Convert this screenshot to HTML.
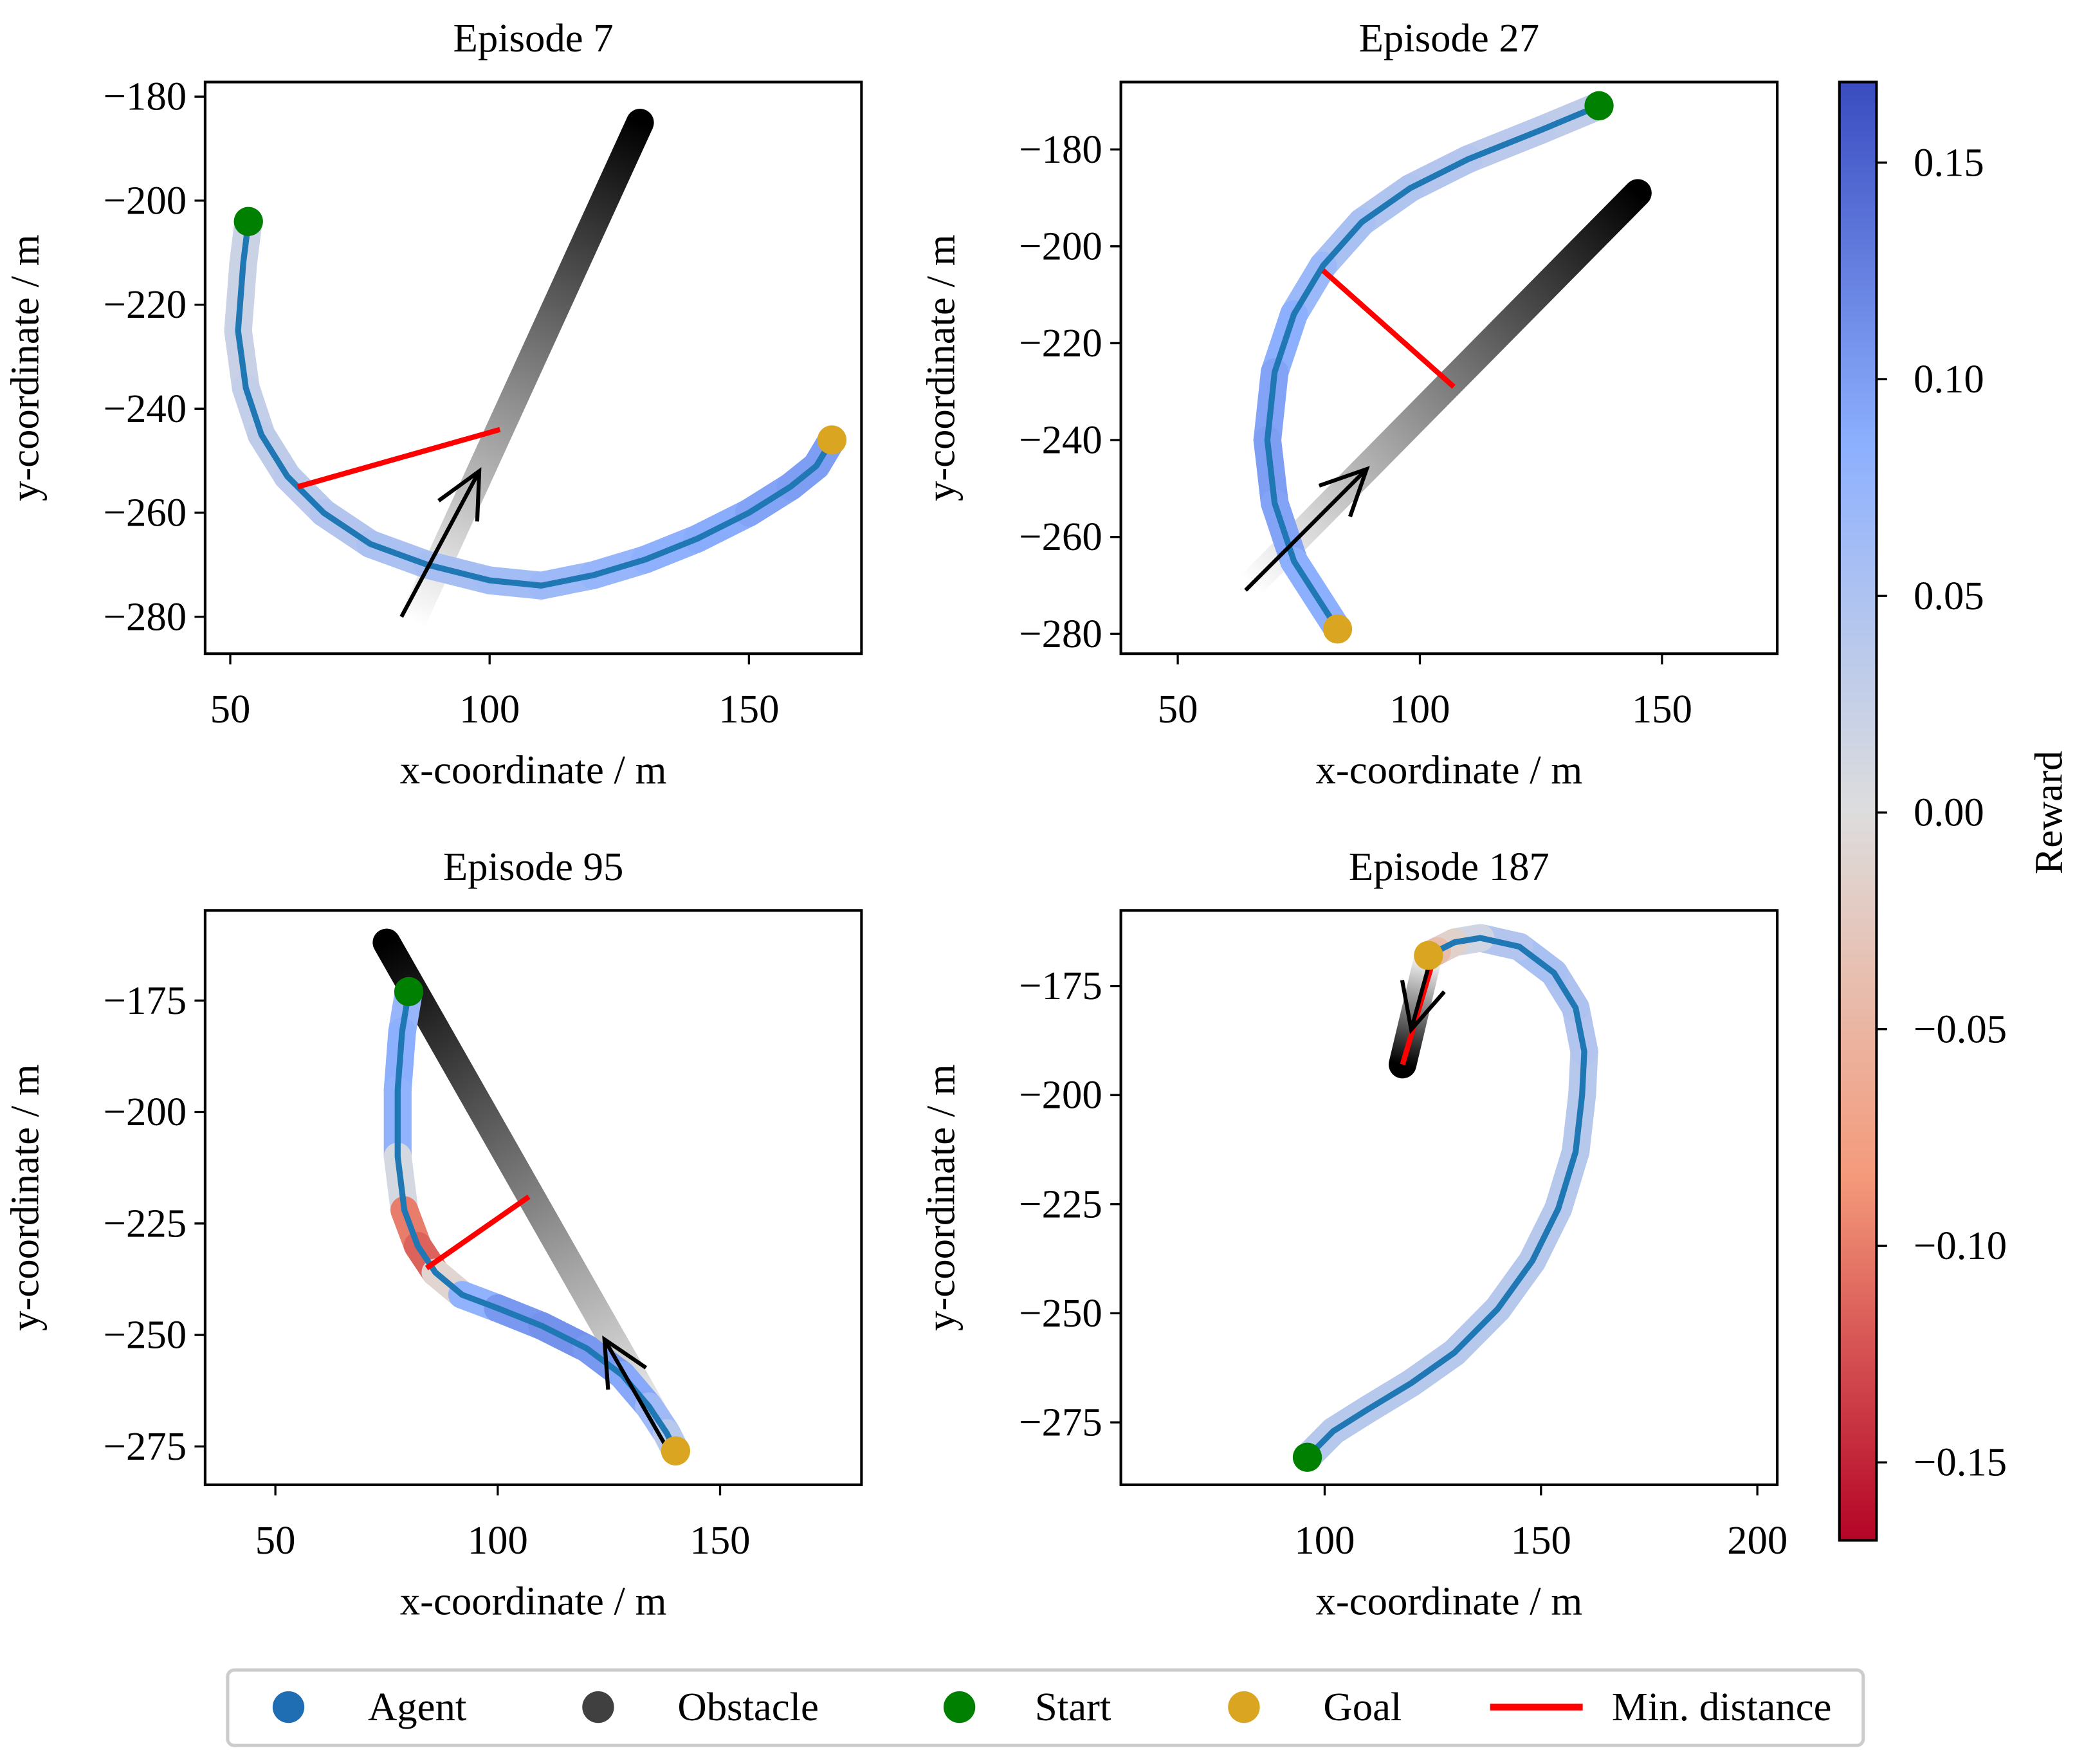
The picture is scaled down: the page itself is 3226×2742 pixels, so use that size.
<!DOCTYPE html>
<html><head><meta charset="utf-8"><style>
html,body{margin:0;padding:0;background:#fff}
svg{display:block}
text{font-family:"Liberation Serif","Times New Roman",serif;fill:#000}
</style></head><body>
<svg id="fig" xmlns="http://www.w3.org/2000/svg" width="3226" height="2742" viewBox="0 0 1568 1333" preserveAspectRatio="none">
<defs>
<linearGradient id="cbgrad" x1="0" y1="0" x2="0" y2="1">
<stop offset="0" stop-color="rgb(58,76,192)"/>
<stop offset="0.25" stop-color="rgb(141,176,254)"/>
<stop offset="0.5" stop-color="rgb(221,221,221)"/>
<stop offset="0.75" stop-color="rgb(244,154,123)"/>
<stop offset="1" stop-color="rgb(180,4,38)"/>
</linearGradient>
</defs>
<g id="plots"></g>
<g>
<rect x="1390" y="62" width="28" height="1102" fill="url(#cbgrad)" stroke="#000" stroke-width="2"/>
<g id="cbticks"></g>
<text x="1558" y="614" font-size="30" text-anchor="middle" transform="rotate(-90 1558 614)">Reward</text>
</g>
<g>
<rect x="172" y="1262" width="1236" height="57" rx="5" fill="#fff" stroke="#ccc" stroke-width="2.5"/>
<g><circle cx="218" cy="1290" r="12" fill="#1f6db2"/><text x="278" y="1300" font-size="30.5">Agent</text></g>
<g><circle cx="452" cy="1290" r="12" fill="#404040"/><text x="512" y="1300" font-size="30.5">Obstacle</text></g>
<g><circle cx="725" cy="1290" r="12" fill="#008000"/><text x="782" y="1300" font-size="30.5">Start</text></g>
<g><circle cx="940" cy="1290" r="12" fill="#daa520"/><text x="1000" y="1300" font-size="30.5">Goal</text></g>
<g><line x1="1126" y1="1290" x2="1196" y2="1290" stroke="#f00" stroke-width="5"/><text x="1218" y="1300" font-size="30.5">Min. distance</text></g>
</g>
</svg>
<script>
// ---- data ----
const titles = ["Episode 7","Episode 27","Episode 95","Episode 187"];
const xTicks = [[50,100,150],[50,100,150],[50,100,150],[100,150,200]];
const yTicks = [[-180,-200,-220,-240,-260,-280],[-180,-200,-220,-240,-260,-280],[-175,-200,-225,-250,-275],[-175,-200,-225,-250,-275]];
const xLim = [[45.15,171.7],[38.25,173.8],[34.2,181.8],[52.9,204.6]];
const yLim = [[-287.1,-177.2],[-284.1,-166.1],[-283.6,-154.8],[-289.3,-157.7]];
// agent paths
const agentX = [
 [53.5,52.5,51.5,53,56,61,68,77,88,100,110,120,130,140,150,158,163,166],
 [137,125,110,98,88,80,74,70,68.5,70,74,83],
 [80,78.5,77.5,77.5,79,82,86,92,100,110,120,128,134,138,140],
 [96,102,110,120,130,140,148,154,158,159.5,160,158,153,145,136,130,126,124]];
const agentY = [
 [-204,-212,-225,-236,-245,-253,-260,-266,-270,-273,-274,-272,-269,-265,-260,-255,-251,-246],
 [-171,-176,-182,-188,-195,-204,-214,-226,-240,-253,-265,-279],
 [-173,-182,-195,-210,-222,-230,-236,-241,-244,-248,-253,-259,-266,-272,-276],
 [-283,-277,-272,-266,-259,-249,-238,-226,-213,-200,-190,-180,-172,-166,-164,-165,-167,-168]];
const agentReward = [
 [0.02,0.02,0.02,0.025,0.03,0.035,0.04,0.05,0.055,0.06,0.065,0.07,0.08,0.085,0.09,0.1,0.1,0.1],
 [0.03,0.035,0.04,0.045,0.05,0.06,0.08,0.09,0.1,0.1,0.09,0.08],
 [0.07,0.08,0.09,0.07,-0.05,-0.15,-0.08,0.06,0.1,0.11,0.11,0.1,0.08,0.05,0.03],
 [0.04,0.04,0.04,0.04,0.04,0.04,0.04,0.04,0.04,0.04,0.04,0.05,0.05,0.06,0.03,0.0,-0.03,-0.05]];
// obstacle start (white) -> end (black)
const obsStart = [[85,-281],[65,-270],[140,-276],[124,-168]];
const obsEnd = [[129,-185],[145,-189],[75,-162],[118,-193]];
// min distance segments
const minA = [[63,-255],[80,-205],[84,-235],[118,-193]];
const minB = [[102,-244],[107,-229],[107,-219],[126,-166]];
// arrows tail -> head
const arrowTail = [[83,-280],[64,-271],[139,-277],[125,-167]];
const arrowHead = [[98,-252],[89,-246],[124,-251],[120,-185]];
const cbTicks = [0.15,0.10,0.05,0.00,-0.05,-0.10,-0.15];
const cbMin = -0.168, cbMax = 0.1686;

// ---- layout ----
const FS = 30.5;
const frames = [[155,62,651,494],[847,62,1343,494],[155,688,651,1122],[847,688,1343,1122]];
const NS="http://www.w3.org/2000/svg";
function el(tag,attrs,parent){const e=document.createElementNS(NS,tag);for(const k in attrs)e.setAttribute(k,attrs[k]);if(parent)parent.appendChild(e);return e;}
function fmt(v){return (v<0?"\u2212":"")+Math.abs(v);}
const stops=[[58,76,192],[141,176,254],[221,221,221],[244,154,123],[180,4,38]];
function cmap(r){let t=(cbMax-r)/(cbMax-cbMin);t=Math.max(0,Math.min(1,t));const s=t*4,i=Math.min(3,Math.floor(s)),f=s-i;const a=stops[i],b=stops[i+1];return `rgb(${Math.round(a[0]+(b[0]-a[0])*f)},${Math.round(a[1]+(b[1]-a[1])*f)},${Math.round(a[2]+(b[2]-a[2])*f)})`;}
const root=document.getElementById('plots');
for(let p=0;p<4;p++){
 const [fx0,fy0,fx1,fy1]=frames[p];
 const sx=v=>fx0+(v-xLim[p][0])/(xLim[p][1]-xLim[p][0])*(fx1-fx0);
 const sy=v=>fy1-(v-yLim[p][0])/(yLim[p][1]-yLim[p][0])*(fy1-fy0);
 const g=el('g',{},root);
 
 
 const gid='obg'+p;
 const defs=el('defs',{},g);
 const lg=el('linearGradient',{id:gid,gradientUnits:'userSpaceOnUse',x1:sx(obsStart[p][0]),y1:sy(obsStart[p][1]),x2:sx(obsEnd[p][0]),y2:sy(obsEnd[p][1])},defs);
 el('stop',{offset:0,'stop-color':'#fff'},lg);el('stop',{offset:1,'stop-color':'#000'},lg);
 const ob=el('line',{x1:sx(obsStart[p][0]),y1:sy(obsStart[p][1]),x2:sx(obsEnd[p][0]),y2:sy(obsEnd[p][1]),stroke:`url(#${gid})`,'stroke-width':21,'stroke-linecap':'round'},g);
 
 
 const xs=agentX[p],ys=agentY[p],rs=agentReward[p];
 for(let i=0;i<xs.length-1;i++){
  const s=el('line',{x1:sx(xs[i]),y1:sy(ys[i]),x2:sx(xs[i+1]),y2:sy(ys[i+1]),stroke:cmap((rs[i]+rs[i+1])/2),'stroke-width':21,'stroke-linecap':'round'},g);
  
  
 }
 const pl=el('polyline',{points:xs.map((x,i)=>sx(x)+','+sy(ys[i])).join(' '),fill:'none',stroke:'#1f77b4','stroke-width':4.5,'stroke-linejoin':'round'},g);
 
 
 const md=el('line',{x1:sx(minA[p][0]),y1:sy(minA[p][1]),x2:sx(minB[p][0]),y2:sy(minB[p][1]),stroke:'#f00','stroke-width':4},g);
 
 
 const tx=sx(arrowTail[p][0]),ty=sy(arrowTail[p][1]),hx=sx(arrowHead[p][0]),hy=sy(arrowHead[p][1]);
 const ang=Math.atan2(hy-ty,hx-tx),L=38,A=0.45;
 const ar=el('path',{d:`M${tx},${ty}L${hx},${hy}M${hx-L*Math.cos(ang-A)},${hy-L*Math.sin(ang-A)}L${hx},${hy}L${hx-L*Math.cos(ang+A)},${hy-L*Math.sin(ang+A)}`,fill:'none',stroke:'#000','stroke-width':3},g);
 
 
 const st=el('circle',{cx:sx(xs[0]),cy:sy(ys[0]),r:11,fill:'#008000'},g);
 
 
 const gl=el('circle',{cx:sx(xs[xs.length-1]),cy:sy(ys[ys.length-1]),r:11,fill:'#daa520'},g);
 
 
 const fr=el('rect',{x:fx0,y:fy0,width:fx1-fx0,height:fy1-fy0,fill:'none',stroke:'#000','stroke-width':2},g);
 
 
 xTicks[p].forEach(v=>{const x=sx(v);el('line',{x1:x,y1:fy1,x2:x,y2:fy1+8,stroke:'#000','stroke-width':1.6},g);
  const t=el('text',{x:x,y:fy1+52,'font-size':FS,'text-anchor':'middle'},g);t.textContent=fmt(v);
  
  });
 yTicks[p].forEach(v=>{const y=sy(v);el('line',{x1:fx0,y1:y,x2:fx0-8,y2:y,stroke:'#000','stroke-width':1.6},g);
  const t=el('text',{x:fx0-14,y:y+10,'font-size':FS,'text-anchor':'end'},g);t.textContent=fmt(v);
  
  });
 const tt=el('text',{x:(fx0+fx1)/2,y:fy0-23,'font-size':FS,'text-anchor':'middle'},g);tt.textContent=titles[p];
 
 
 const xl=el('text',{x:(fx0+fx1)/2,y:fy1+98,'font-size':FS,'text-anchor':'middle'},g);xl.textContent='x-coordinate / m';
 
 
 const yc=(fy0+fy1)/2,yx=fx0-126;
 const yl=el('text',{x:yx,y:yc,'font-size':FS,'text-anchor':'middle',transform:`rotate(-90 ${yx} ${yc})`},g);yl.textContent='y-coordinate / m';
 
 
}
const cbg=document.getElementById('cbticks');
cbTicks.forEach(v=>{const y=62+(cbMax-v)/(cbMax-cbMin)*1102;
 el('line',{x1:1418,y1:y,x2:1426,y2:y,stroke:'#000','stroke-width':1.6},cbg);
 const t=el('text',{x:1446,y:y+10,'font-size':FS},cbg);t.textContent=(v<0?"\u2212":"")+Math.abs(v).toFixed(2);
 
 });
</script>
</body></html>
